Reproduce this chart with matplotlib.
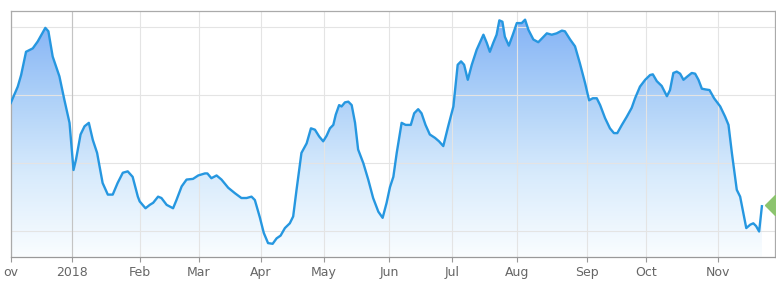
import matplotlib
matplotlib.use('Agg')
import matplotlib.pyplot as plt
import numpy as np
from matplotlib.colors import LinearSegmentedColormap

# trading-day index and closing price
day = [0.0, 2.3, 3.4, 5.0, 7.2, 8.8, 11.3, 12.3, 13.7, 15.9, 17.5, 19.2, 20.5, 21.3,
       22.8, 24.1, 25.5, 26.8, 28.2, 30.0, 31.7, 33.3, 34.9, 36.6, 38.2, 39.8, 41.5,
       42.1, 44.0, 45.4, 46.5, 48.1, 49.2, 50.9, 53.0, 54.1, 55.8, 57.4, 59.5, 61.2,
       63.4, 64.2, 65.5, 67.2, 68.8, 71.0, 73.2, 75.3, 77.0, 78.6, 79.7, 81.3, 82.6,
       84.0, 85.5, 86.8, 88.1, 89.5, 91.1, 92.2, 93.3, 94.9, 96.6, 98.0, 99.3, 100.7,
       102.0, 103.1, 104.2, 105.3, 106.1, 107.2, 108.0, 109.1, 110.2, 111.3, 112.4,
       113.4, 115.1, 116.7, 118.3, 120.0, 121.4, 122.7, 123.8, 124.9, 126.0, 127.6,
       128.9, 130.6, 131.7, 133.0, 134.1, 135.4, 136.8, 138.5, 139.8, 141.2, 142.8,
       144.5, 145.9, 147.0, 148.0, 149.2, 150.5, 152.1, 154.3, 155.4, 156.4, 157.5,
       158.6, 159.5, 160.5, 161.3, 162.6, 163.9, 165.2, 166.8, 167.9, 169.0, 170.6,
       172.2, 173.9, 175.0, 176.6, 178.2, 179.9, 180.9, 182.6, 184.2, 185.8, 187.5,
       188.8, 190.0, 191.3, 192.4, 194.0, 195.6, 196.9, 198.0, 199.5, 201.1, 202.7,
       203.8, 205.4, 207.1, 208.7, 209.6, 210.9, 212.5, 214.2, 215.2, 216.3, 217.4,
       218.5, 219.6, 220.9, 222.3, 223.4, 224.5, 225.6, 226.7, 228.1, 229.6, 231.6,
       233.2, 234.3, 235.4, 237.0, 238.1, 240.1, 241.4, 242.4, 243.3, 244.3, 245.2]
price = [58.8, 61.2, 62.9, 66.3, 66.8, 67.8, 69.8, 69.3, 65.6, 62.7, 59.3, 55.9, 49.0, 50.5,
         54.2, 55.4, 55.9, 53.4, 51.5, 47.1, 45.4, 45.4, 47.1, 48.6, 48.8, 48.0, 45.1,
         44.4, 43.4, 43.9, 44.2, 45.1, 44.9, 43.9, 43.4, 44.6, 46.6, 47.6, 47.7, 48.2,
         48.5, 48.5, 47.8, 48.2, 47.6, 46.4, 45.6, 44.9, 44.9, 45.1, 44.6, 42.1, 39.8,
         38.3, 38.2, 39.0, 39.4, 40.5, 41.2, 42.2, 46.1, 51.5, 52.9, 55.1, 54.9, 53.9,
         53.2, 54.0, 55.1, 55.6, 57.1, 58.5, 58.3, 58.9, 59.0, 58.5, 55.9,
         52.0, 50.0, 47.6, 44.9, 42.9, 42.0, 44.2, 46.5, 48.0, 51.5, 55.9,
         55.6, 55.6, 57.3, 57.9, 57.3, 55.6, 54.2, 53.7, 53.2, 52.5, 55.4,
         58.3, 64.4, 64.9, 64.4, 62.2, 64.4, 66.6, 68.8, 67.6, 66.3, 67.6,
         68.8, 70.9, 70.7, 68.5, 67.2, 68.8, 70.5, 70.5, 71.0, 69.5, 68.1,
         67.7, 68.5, 69.0, 68.8, 69.0, 69.4, 69.3, 68.1, 67.1, 64.6, 61.7,
         59.2, 59.5, 59.5, 58.5, 56.6, 55.1, 54.4, 54.4, 55.6, 56.8, 58.1,
         59.5, 61.2, 62.2, 62.9, 63.0, 62.0, 61.3, 59.8, 60.7, 63.2, 63.4,
         63.1, 62.2, 62.7, 63.2, 63.1, 62.2, 60.9, 60.8, 60.7, 59.5, 58.3,
         56.8, 55.6, 51.5, 46.1, 45.1, 40.5, 41.0, 41.2, 40.8, 40.0, 43.7]
target = 43.9

month_pos = [0, 20.0, 42.1, 61.4, 81.6, 102.2, 123.6, 144.1, 165.4, 188.0, 207.3, 231.0]
# the first label shows only "ov" in the original (cut at the edge)
month_lab = ['ov', '2018', 'Feb', 'Mar', 'Apr', 'May', 'Jun', 'Jul', 'Aug', 'Sep', 'Oct', 'Nov']

x0, x1 = 0, 249.5
y0, y1 = 36.34, 72.34

fig = plt.figure(figsize=(7.76, 2.82), dpi=100)
ax = fig.add_axes([0.0138, 0.0904, 0.985, 0.8723])

# gradient area under the line
cmap = LinearSegmentedColormap.from_list('fill', ['#fafdff', '#d8ebfc', '#abcff8', '#80b0f5'])
grad = np.linspace(0, 1, 256).reshape(-1, 1)
im = ax.imshow(grad, cmap=cmap, origin='lower', aspect='auto',
               extent=[x0, x1, y0, y1], zorder=1)
poly = ax.fill_between(day, price, y0, facecolor='none', edgecolor='none')
im.set_clip_path(poly.get_paths()[0], transform=ax.transData)

ax.plot(day, price, color='#2697e0', lw=1.7, zorder=3, solid_joinstyle='round')
ax.plot([x1], [target], marker='D', ms=10, color='#8cc46e', clip_on=False, zorder=4)

ax.set_xlim(x0, x1)
ax.set_ylim(y0, y1)
ax.set_yticks([40, 50, 60, 70])
ax.set_xticks(month_pos)
ax.set_xticklabels(month_lab)
ax.tick_params(axis='y', length=0, labelleft=False)
ax.tick_params(axis='x', length=3.5, pad=3.5, colors='#999999', labelcolor='#666666', labelsize=9)
ax.grid(True, color='#e4e4e4', lw=0.8, zorder=2)
ax.axvline(month_pos[1], color='#c4c4c4', lw=0.8, zorder=2)
for s in ax.spines.values():
    s.set_color('#aaaaaa')
    s.set_linewidth(0.9)
ax.spines['bottom'].set_color('#999999')

plt.savefig('out.png', dpi=100)
